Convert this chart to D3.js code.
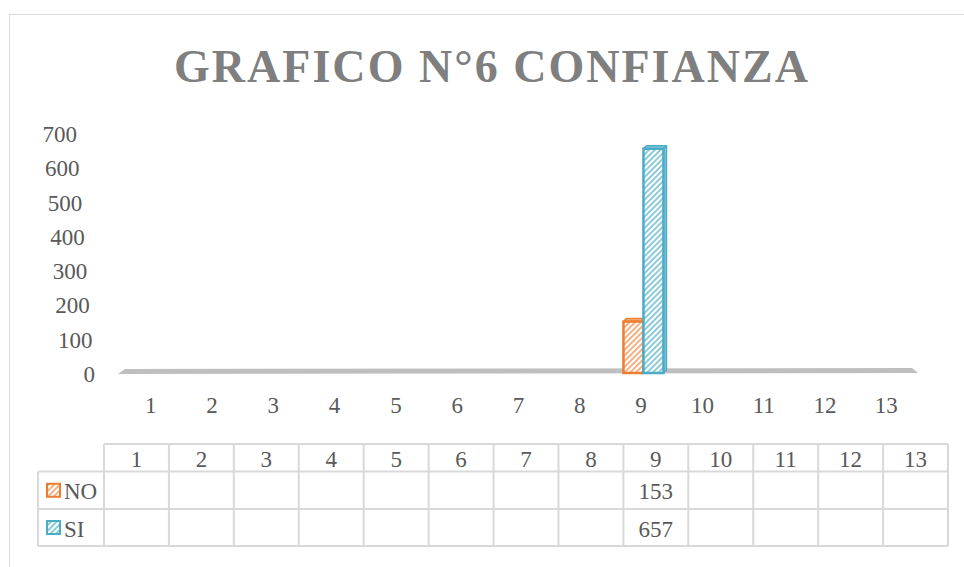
<!DOCTYPE html>
<html><head><meta charset="utf-8">
<script src="https://cdn.jsdelivr.net/npm/d3@7"></script>
<style>body{margin:0;background:#fff}svg{display:block}</style>
</head><body><svg id="c" width="964" height="567"></svg>
<script>
const categories = ["1","2","3","4","5","6","7","8","9","10","11","12","13"];
const seriesNames = ["NO","SI"];
const noValues = [null,null,null,null,null,null,null,null,153,null,null,null,null];
const siValues = [null,null,null,null,null,null,null,null,657,null,null,null,null];
const yTicks = [0,100,200,300,400,500,600,700];
const title = "GRAFICO N°6 CONFIANZA";

const colors = {NO:"#ED7D31", SI:"#4BACC6"};
const light = {NO:"#F4B183", SI:"#8CCBDC"};
const font = "'Liberation Serif','DejaVu Serif',serif";
const fs = 23;
const svg = d3.select("#c");

// patterns
const defs = svg.append("defs");
seriesNames.forEach(s=>{
  const p = defs.append("pattern").attr("id","pat"+s).attr("patternUnits","userSpaceOnUse")
    .attr("width",4).attr("height",4).attr("patternTransform","rotate(45)");
  p.append("rect").attr("width",4).attr("height",4).attr("fill","#fff");
  p.append("rect").attr("width",2).attr("height",4).attr("fill",light[s]);
});

// chart border
svg.append("rect").attr("x",9.5).attr("y",14.5).attr("width",1000).attr("height",600)
  .attr("fill","none").attr("stroke","#d9d9d9").attr("stroke-width",1);

// title
svg.append("text").attr("x",491).attr("y",82).attr("text-anchor","middle")
  .attr("font-family",font).attr("font-weight","bold").attr("font-size",46)
  .attr("fill","#7f7f7f").attr("textLength",634).attr("lengthAdjust","spacing").text(title);

const y = d3.scaleLinear().domain([0,700]).range([374,134]);
const x = d3.scaleBand().domain(categories).range([118,915]);
const xs = d3.scaleBand().domain(seriesNames).range([0,40]);

// y labels (perspective skew)
const skew = d3.scaleLinear().domain([0,700]).range([95,77]);
svg.append("g").selectAll("text").data(yTicks).join("text")
  .attr("x",d=>skew(d)).attr("y",d=>y(d)).attr("dy","0.35em").attr("text-anchor","end")
  .attr("font-family",font).attr("font-size",fs).attr("fill","#595959").text(d=>d);

// floor
svg.append("polygon").attr("fill","#bfbfbf")
  .attr("points",[[x.range()[0],y(0)],[x.range()[0]+7,y(0)-5],[x.range()[1]-3,y(0)-6],[x.range()[1]+3,y(0)-1]].map(p=>p.join(",")).join(" "));

// x labels
svg.append("g").selectAll("text").data(categories).join("text")
  .attr("x",d=>x(d)+x.bandwidth()/2+2).attr("y",405).attr("dy","0.35em").attr("text-anchor","middle")
  .attr("font-family",font).attr("font-size",fs).attr("fill","#595959").text(d=>d);

// bars
const bars = [];
categories.forEach((c,i)=>{
  if(noValues[i]!=null) bars.push({c,s:"NO",v:noValues[i]});
  if(siValues[i]!=null) bars.push({c,s:"SI",v:siValues[i]});
});
const gb = svg.append("g");
const depth = 3;
bars.forEach(b=>{
  const x0 = x(b.c)+15+xs(b.s), w = xs.bandwidth();
  const yt = y(b.v), yb = y(0)-1;
  gb.append("polygon").attr("points",`${x0},${yt} ${x0+depth},${yt-depth} ${x0+w+depth},${yt-depth} ${x0+w},${yt}`)
    .attr("fill",light[b.s]).attr("stroke",colors[b.s]).attr("stroke-width",1.5).attr("stroke-linejoin","round");
  gb.append("polygon").attr("points",`${x0+w},${yt} ${x0+w+depth},${yt-depth} ${x0+w+depth},${yb-depth} ${x0+w},${yb}`)
    .attr("fill",light[b.s]).attr("stroke",colors[b.s]).attr("stroke-width",1.5).attr("stroke-linejoin","round");
  gb.append("rect").attr("x",x0).attr("y",yt).attr("width",w).attr("height",yb-yt)
    .attr("fill","url(#pat"+b.s+")").attr("stroke",colors[b.s]).attr("stroke-width",2.5);
});

// data table
const tx = d3.scaleBand().domain(categories).range([104,948]);
const rowY = [444,471.5,509,546];
const tg = svg.append("g");
const lc = "#d9d9d9";
tg.append("line").attr("x1",104).attr("x2",948).attr("y1",rowY[0]).attr("y2",rowY[0]).attr("stroke",lc).attr("stroke-width",2);
[1,2,3].forEach(k=>tg.append("line").attr("x1",38).attr("x2",948).attr("y1",rowY[k]).attr("y2",rowY[k]).attr("stroke",lc).attr("stroke-width",2));
tg.append("line").attr("x1",38).attr("x2",38).attr("y1",rowY[1]).attr("y2",rowY[3]).attr("stroke",lc).attr("stroke-width",2);
categories.concat(["end"]).forEach((c,i)=>{
  const xx = i<categories.length? tx(c): tx.range()[1];
  tg.append("line").attr("x1",xx).attr("x2",xx).attr("y1",rowY[0]).attr("y2",rowY[3]).attr("stroke",lc).attr("stroke-width",2);
});
tg.selectAll("text.h").data(categories).join("text").attr("class","h")
  .attr("x",d=>tx(d)+tx.bandwidth()/2).attr("y",(rowY[0]+rowY[1])/2+1).attr("dy","0.35em").attr("text-anchor","middle")
  .attr("font-family",font).attr("font-size",fs).attr("fill","#595959").text(d=>d);
[[ "NO",noValues],["SI",siValues]].forEach(([s,vals],r)=>{
  const cy = (rowY[r+1]+rowY[r+2])/2;
  tg.append("rect").attr("x",47).attr("y",cy-6.5).attr("width",13).attr("height",13)
    .attr("fill","url(#pat"+s+")").attr("stroke",colors[s]).attr("stroke-width",2);
  tg.append("text").attr("x",64).attr("y",cy+1).attr("dy","0.35em").attr("font-family",font).attr("font-size",fs)
    .attr("fill","#595959").text(s);
  vals.forEach((v,i)=>{ if(v!=null) tg.append("text").attr("x",tx(categories[i])+tx.bandwidth()/2).attr("y",cy+1)
    .attr("dy","0.35em").attr("text-anchor","middle").attr("font-family",font).attr("font-size",fs).attr("fill","#595959").text(v); });
});
</script></body></html>
